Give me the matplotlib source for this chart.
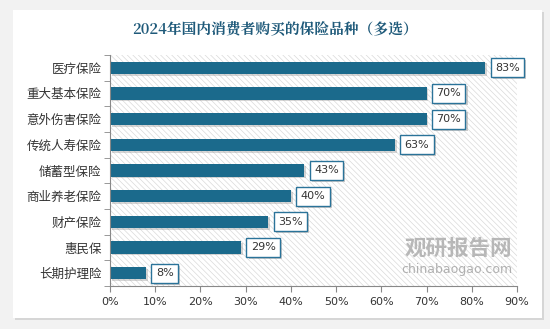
import matplotlib.pyplot as plt
import matplotlib.patheffects as pe
from matplotlib.patches import Rectangle

plt.rcParams['font.family'] = ['Noto Sans CJK SC', 'DejaVu Sans']
plt.rcParams['hatch.color'] = '#dadada'
plt.rcParams['hatch.linewidth'] = 0.5

categories = ['医疗保险', '重大基本保险', '意外伤害保险', '传统人寿保险', '储蓄型保险',
              '商业养老保险', '财产保险', '惠民保', '长期护理险']
values = [83, 70, 70, 63, 43, 40, 35, 29, 8]
xticks = [0, 10, 20, 30, 40, 50, 60, 70, 80, 90]

bar_color = '#1b6a8c'

fig = plt.figure(figsize=(5.5, 3.29), dpi=100)
fig.patch.set_facecolor('#f2f2f2')

# white card with soft shadow (drawn in a background axes)
bg = fig.add_axes([0, 0, 1, 1], zorder=-1)
bg.set_xlim(0, 550)
bg.set_ylim(329, 0)
bg.axis('off')
bg.add_patch(Rectangle((13, 10), 529, 308, facecolor='white', edgecolor='none',
                       path_effects=[pe.SimplePatchShadow(offset=(1.5, -1.5), shadow_rgbFace='#cfcfcf', alpha=0.8),
                                     pe.Normal()]))

fig.text(0.5, 1 - 29 / 329, '2024年国内消费者购买的保险品种（多选）', ha='center', va='center',
         fontsize=10.6, fontweight='bold', color='#1f5a7a',
         family=['Noto Serif CJK SC', 'Noto Sans CJK SC', 'DejaVu Sans'])

ax = fig.add_axes([110 / 550, 1 - 286 / 329, 407 / 550, 231 / 329], zorder=1)
ax.set_facecolor('white')
ax.add_patch(Rectangle((0, 0), 1, 1, transform=ax.transAxes, facecolor='white',
                       edgecolor='#dadada', hatch='\\\\\\\\\\\\', linewidth=0, zorder=0))

y = list(range(len(categories)))
bars = ax.barh(y, values, height=0.47, color=bar_color, zorder=2,
               path_effects=[pe.SimplePatchShadow(offset=(1.2, -1.2), shadow_rgbFace='#999999', alpha=0.4),
                             pe.Normal()])

for yi, v in zip(y, values):
    ax.annotate(f'{v}%', (v, yi), xytext=(7, 0), textcoords='offset points',
                ha='left', va='center', fontsize=8, color='#333333',
                family=['DejaVu Sans'], zorder=3,
                bbox=dict(boxstyle='square,pad=0.4', facecolor='white', edgecolor='#2a7399', linewidth=1,
                          path_effects=[pe.SimplePatchShadow(offset=(1.5, -1.5), shadow_rgbFace='#999999', alpha=0.5),
                                        pe.Normal()]))

ax.set_xlim(0, 90)
ax.set_ylim(len(categories) - 0.5, -0.5)
ax.set_xticks(xticks)
ax.set_xticklabels([f'{t}%' for t in xticks], fontsize=8, color='#333333', family=['DejaVu Sans'])
ax.set_yticks(y)
ax.set_yticklabels(categories, fontsize=9, color='#333333')
ax.set_yticks([i - 0.5 for i in range(len(categories) + 1)], minor=True)
ax.tick_params(axis='y', which='major', length=0, pad=6)
ax.tick_params(axis='y', which='minor', length=4, color='#888888', direction='out')
ax.tick_params(axis='x', length=4, color='#888888', direction='out', pad=4)

for s in ['top', 'right']:
    ax.spines[s].set_visible(False)
for s in ['left', 'bottom']:
    ax.spines[s].set_color('#888888')
    ax.spines[s].set_linewidth(0.8)

# watermark
ax.text(405 / 550, 1 - 248 / 329, '观研报告网', transform=fig.transFigure, ha='left', va='center',
        fontsize=15.5, fontweight='bold', color='#a8a8a8', alpha=0.8, zorder=1)
ax.text(401 / 550, 1 - 269 / 329, 'chinabaogao.com', transform=fig.transFigure, ha='left', va='center',
        fontsize=9, color='#a8a8a8', alpha=0.9, family=['DejaVu Sans'], zorder=1)

fig.savefig('out.png', dpi=100, facecolor=fig.get_facecolor())
